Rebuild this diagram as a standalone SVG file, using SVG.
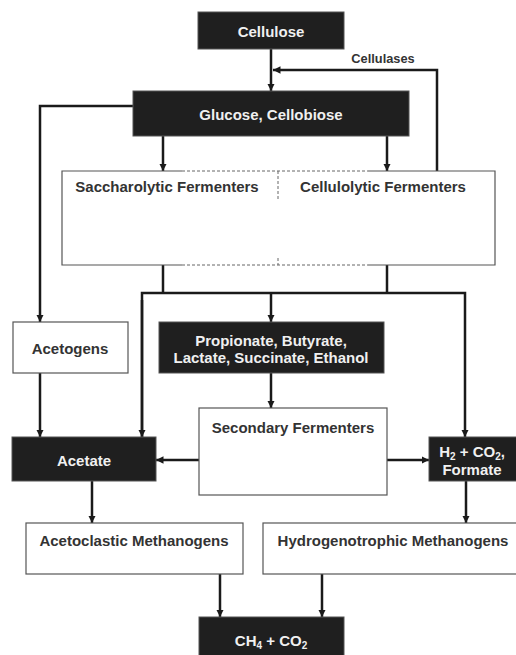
<svg xmlns="http://www.w3.org/2000/svg" width="516" height="655" viewBox="0 0 516 655">
<style>
.dark{fill:#1f1f1f;stroke:#555;stroke-width:1}
.light{fill:#fff;stroke:#555;stroke-width:1.2}
.tw{font-family:"Liberation Sans",Arial,sans-serif;font-weight:bold;font-size:15px;fill:#f0f0f0;text-anchor:middle}
.tb{font-family:"Liberation Sans",Arial,sans-serif;font-weight:bold;font-size:15px;fill:#333;text-anchor:middle}
.c{fill:none;stroke:#1a1a1a;stroke-width:2.5}
.dash{fill:none;stroke:#666;stroke-width:1;stroke-dasharray:3,2}
.sub{font-size:10px}
</style>
<defs>
<marker id="ah" viewBox="0 0 10 10" refX="10" refY="5" markerWidth="3" markerHeight="3" orient="auto" markerUnits="strokeWidth">
<path d="M0,0 L10,5 L0,10 z" fill="#1a1a1a"/>
</marker>
</defs>
<g id="connectors">
<line class="c" x1="271" y1="49" x2="271" y2="91" marker-end="url(#ah)"/>
<polyline class="c" points="437,171 437,70 273,70" marker-end="url(#ah)"/>
<polyline class="c" points="133,106 40,106 40,322" marker-end="url(#ah)"/>
<line class="c" x1="163" y1="136" x2="163" y2="171" marker-end="url(#ah)"/>
<line class="c" x1="387" y1="136" x2="387" y2="171" marker-end="url(#ah)"/>
<line class="c" x1="163" y1="265" x2="163" y2="293"/>
<line class="c" x1="387" y1="265" x2="387" y2="293"/>
<polyline class="c" points="142,437 142,293 465,293 465,437" marker-end="url(#ah)"/>
<line class="c" x1="142" y1="300" x2="142" y2="437" marker-end="url(#ah)"/>
<line class="c" x1="271" y1="293" x2="271" y2="322" marker-end="url(#ah)"/>
<line class="c" x1="40" y1="373" x2="40" y2="437" marker-end="url(#ah)"/>
<line class="c" x1="271" y1="373" x2="271" y2="408" marker-end="url(#ah)"/>
<line class="c" x1="199" y1="460" x2="156" y2="460" marker-end="url(#ah)"/>
<line class="c" x1="387" y1="460" x2="429" y2="460" marker-end="url(#ah)"/>
<line class="c" x1="92" y1="481" x2="92" y2="523" marker-end="url(#ah)"/>
<line class="c" x1="466" y1="481" x2="466" y2="523" marker-end="url(#ah)"/>
<line class="c" x1="220" y1="574" x2="220" y2="617" marker-end="url(#ah)"/>
<line class="c" x1="322" y1="574" x2="322" y2="617" marker-end="url(#ah)"/>
<text class="tb" x="383" y="63" style="font-size:12.8px">Cellulases</text>
</g>
<g id="cellulose">
<rect class="dark" x="198" y="12" width="146" height="37"/>
<text class="tw" x="271" y="37">Cellulose</text>
</g>
<g id="glucose">
<rect class="dark" x="133" y="91" width="276" height="45"/>
<text class="tw" x="271" y="119.5">Glucose, Cellobiose</text>
</g>
<g id="fermenters">
<rect x="62" y="171" width="433" height="94" fill="#fff"/>
<path d="M182,171 H62 V265 H182 M368,171 H495 V265 H368" fill="none" stroke="#555" stroke-width="1.2"/>
<line class="dash" x1="182" y1="171" x2="368" y2="171"/>
<line class="dash" x1="182" y1="265" x2="368" y2="265"/>
<line class="dash" x1="278" y1="171" x2="278" y2="200"/>
<line class="dash" x1="278" y1="258" x2="278" y2="265"/>
<text class="tb" x="167" y="191.5">Saccharolytic Fermenters</text>
<text class="tb" x="383" y="191.5">Cellulolytic Fermenters</text>
</g>
<g id="acetogens">
<rect class="light" x="13" y="322" width="115" height="51"/>
<text class="tb" x="70" y="353.5">Acetogens</text>
</g>
<g id="acids">
<rect class="dark" x="159" y="322" width="225" height="51"/>
<text class="tw" x="271" y="345.5">Propionate, Butyrate,</text>
<text class="tw" x="271" y="363">Lactate, Succinate, Ethanol</text>
</g>
<g id="secondary">
<rect class="light" x="199" y="408" width="188" height="87"/>
<text class="tb" x="293" y="433">Secondary Fermenters</text>
</g>
<g id="acetate">
<rect class="dark" x="12" y="437" width="144" height="44"/>
<text class="tw" x="84" y="465.5">Acetate</text>
</g>
<g id="h2">
<rect class="dark" x="429" y="437" width="90" height="44"/>
<text class="tw" x="472" y="457">H<tspan class="sub" dy="3">2</tspan><tspan dy="-3"> + CO</tspan><tspan class="sub" dy="3">2</tspan><tspan dy="-3">,</tspan></text>
<text class="tw" x="472" y="474.5">Formate</text>
</g>
<g id="acetoclastic">
<rect class="light" x="26" y="523" width="217" height="51"/>
<text class="tb" x="134" y="545.5">Acetoclastic Methanogens</text>
</g>
<g id="hydrogenotrophic">
<rect class="light" x="263" y="523" width="260" height="51"/>
<text class="tb" x="393" y="545.5">Hydrogenotrophic Methanogens</text>
</g>
<g id="methane">
<rect class="dark" x="199" y="617" width="145" height="45"/>
<text class="tw" x="271" y="646">CH<tspan class="sub" dy="3">4</tspan><tspan dy="-3"> + CO</tspan><tspan class="sub" dy="3">2</tspan></text>
</g>
</svg>
